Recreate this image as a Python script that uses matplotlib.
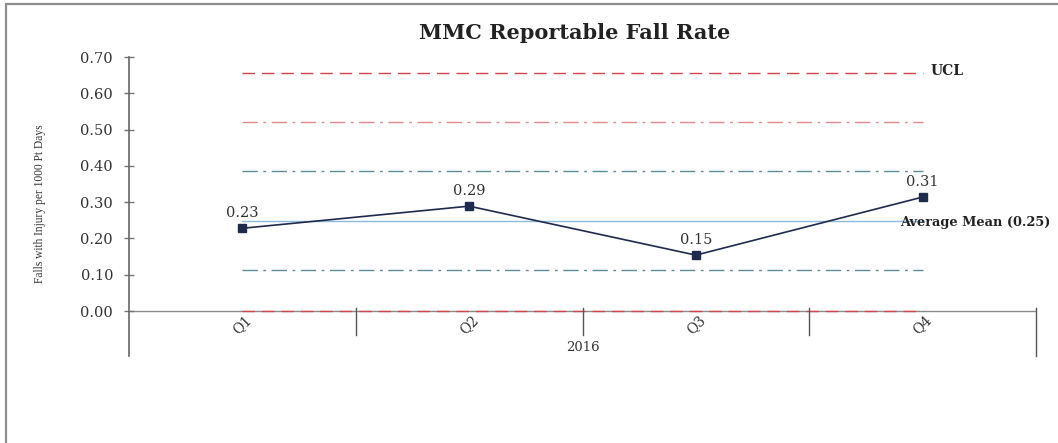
import matplotlib.pyplot as plt
from matplotlib.patches import Rectangle

# Chart data
quarters = ['Q1', 'Q2', 'Q3', 'Q4']
year_label = '2016'
fall_rates = [0.228, 0.289, 0.154, 0.314]

# Control limits
ucl = 0.657
upper_2sd = 0.521
upper_1sd = 0.385
mean_rate = 0.248
lower_1sd = 0.112
lcl = 0.0

yticks = [0.0, 0.1, 0.2, 0.3, 0.4, 0.5, 0.6, 0.7]

serif = 'DejaVu Serif'
times = 'Liberation Serif'

fig = plt.figure(figsize=(10.58, 4.43), dpi=100)
ax = fig.add_axes([129 / 1058, 87 / 443, 907 / 1058, 299 / 443])

# Outer frame of the chart area (runs off the right and bottom edges)
fig.patches.append(Rectangle((6 / 1058, -5 / 443), 1.1, 1 + 1 / 443,
                             transform=fig.transFigure, fill=False,
                             edgecolor='#8c8c8c', linewidth=1.6))

x = list(range(1, len(quarters) + 1))
x0, x1 = x[0], x[-1]

# Control lines
ax.plot([x0, x1], [ucl, ucl], color='#d2454a', linewidth=1.0, dashes=(9, 5))
ax.plot([x0, x1], [upper_2sd, upper_2sd], color='#e28a8a', linewidth=1.0, dashes=(11, 4, 2, 4))
ax.plot([x0, x1], [upper_1sd, upper_1sd], color='#5f8b94', linewidth=1.0, dashes=(11, 4, 2, 4))
ax.plot([x0, x1], [mean_rate, mean_rate], color='#8dbbe0', linewidth=1.0)
ax.plot([x0, x1], [lower_1sd, lower_1sd], color='#5f8b94', linewidth=1.0, dashes=(11, 4, 2, 4))

# Category axis line and the LCL drawn on top of it
ax.axhline(0, color='#8a8a8a', linewidth=1.0, zorder=1)
ax.plot([x0, x1], [lcl, lcl], color='#d2454a', linewidth=1.0, dashes=(9, 5), zorder=2)

# Data series
ax.plot(x, fall_rates, color='#1f2b4d', linewidth=1.2, marker='s',
        markersize=6, markerfacecolor='#1f2b4d', zorder=4)
for xi, v in zip(x, fall_rates):
    ax.annotate(f'{v:.2f}', (xi, v), xytext=(0, 6), textcoords='offset points',
                ha='center', va='bottom', fontsize=10.5, family=serif, color='#333333')

# Line labels
ax.text(x1 + 0.035, ucl + 0.005, 'UCL', fontsize=10, family=serif, fontweight='bold',
        va='center', ha='left', color='#222222')
ax.text(x1 - 0.1, mean_rate - 0.005, 'Average Mean (0.25)', fontsize=9.3, family=serif,
        fontweight='bold', va='center', ha='left', color='#222222', clip_on=False)

# Multi-level category axis: separators, quarter labels, year label
for b in [1.5, 2.5, 3.5]:
    ax.plot([b, b], [0.008, -0.066], color='#555555', linewidth=1.0, clip_on=False)
ax.plot([4.5, 4.5], [0.008, -0.124], color='#555555', linewidth=1.0, clip_on=False)
for xi, q in zip(x, quarters):
    ax.text(xi, -0.038, q, rotation=45, ha='center', va='center',
            fontsize=10, family=serif, color='#333333')
ax.text(2.5, -0.101, year_label, ha='center', va='center', fontsize=9.5,
        family=serif, color='#333333')

ax.set_xlim(0.5, 4.5)
ax.set_ylim(-0.124, 0.70)
ax.set_xticks([])
ax.set_yticks(yticks)
ax.set_yticklabels([f'{t:.2f}' for t in yticks], fontsize=10.5, family=serif, color='#333333')
ax.tick_params(axis='y', direction='inout', length=7, width=1.0, color='#777777', pad=8)

for side in ['top', 'right', 'bottom']:
    ax.spines[side].set_visible(False)
ax.spines['left'].set_color('#666666')
ax.spines['left'].set_linewidth(1.2)

ax.set_ylabel('Falls with Injury per 1000 Pt Days', fontsize=8.3, family=times,
              color='#333333')
ax.yaxis.set_label_coords(-83 / 907, 0.508)

fig.text(575 / 1058, 1 - 33 / 443, 'MMC Reportable Fall Rate', ha='center',
         va='center', fontsize=15, family=serif, fontweight='bold', color='#222222')

plt.savefig('out.png', dpi=100)
